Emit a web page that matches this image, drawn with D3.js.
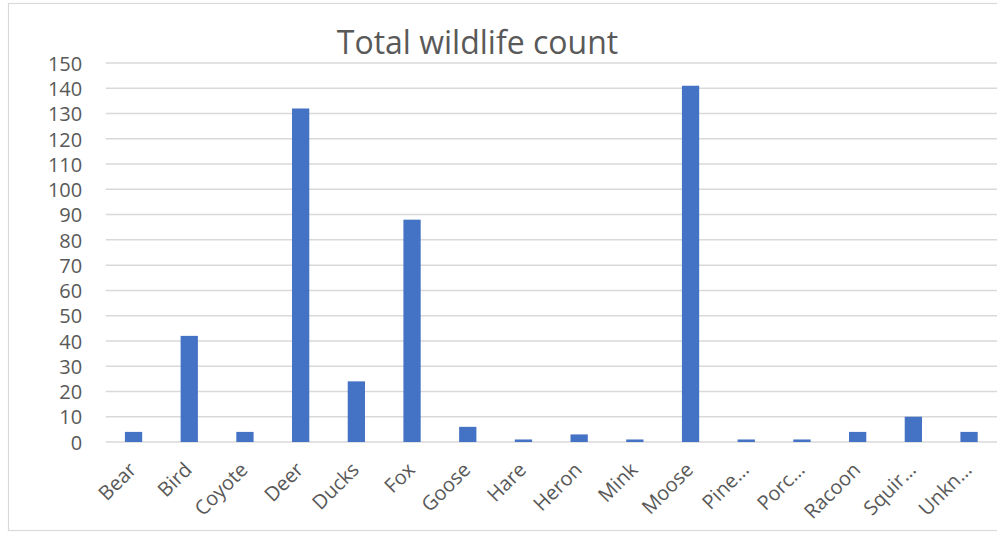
<!DOCTYPE html>
<html>
<head>
<meta charset="utf-8">
<script src="https://cdn.jsdelivr.net/npm/d3@7"></script>
<style>
  html, body { margin: 0; padding: 0; background: #fff; }
  svg { display: block; }
</style>
</head>
<body>
<svg id="chart" width="997" height="533"></svg>
<script>
// Wildlife sightings by species
const categories = ["Bear", "Bird", "Coyote", "Deer", "Ducks", "Fox", "Goose", "Hare",
  "Heron", "Mink", "Moose", "Pine…", "Porc…", "Racoon", "Squir…", "Unkn…"];
const counts = [4, 42, 4, 132, 24, 88, 6, 1, 3, 1, 141, 1, 1, 4, 10, 4];
const yTicks = [0, 10, 20, 30, 40, 50, 60, 70, 80, 90, 100, 110, 120, 130, 140, 150];
const chartTitle = "Total wildlife count";

const W = 997, H = 533;
const margin = { left: 105.7, right: 0, top: 63, bottom: 91 };
const svg = d3.select("#chart");
const font = "'Open Sans', 'Noto Sans', sans-serif";
const textColor = "#595959";

// chart area frame
svg.append("rect")
  .attr("x", 8.5).attr("y", 3.5)
  .attr("width", W + 10).attr("height", 527)
  .attr("fill", "#fff")
  .attr("stroke", "#d9d9d9").attr("stroke-width", 1.2);

const x = d3.scaleBand()
  .domain(categories)
  .range([margin.left, margin.left + 55.7 * categories.length])
  .paddingInner(0.69).paddingOuter(0.345);

const y = d3.scaleLinear()
  .domain([0, 150])
  .range([H - margin.bottom, margin.top]);

// horizontal gridlines
svg.append("g")
  .selectAll("line")
  .data(yTicks)
  .join("line")
  .attr("x1", margin.left).attr("x2", W)
  .attr("y1", d => y(d)).attr("y2", d => y(d))
  .attr("stroke", "#d9d9d9").attr("stroke-width", 1.5);

// y axis labels
const yAxis = d3.axisLeft(y).tickValues(yTicks).tickSize(0).tickPadding(0);
const yg = svg.append("g")
  .attr("transform", `translate(${margin.left - 23.5},0)`)
  .call(yAxis);
yg.select(".domain").remove();
yg.selectAll("text")
  .attr("fill", textColor)
  .style("font-family", font)
  .style("font-size", "20px")
  .attr("dy", "0.36em");

// bars
svg.append("g")
  .selectAll("rect")
  .data(categories.map((c, i) => ({ c, v: counts[i] })))
  .join("rect")
  .attr("x", d => x(d.c))
  .attr("width", x.bandwidth())
  .attr("y", d => y(d.v))
  .attr("height", d => y(0) - y(d.v))
  .attr("fill", "#4472c4");

// x axis with rotated category labels
const xAxis = d3.axisBottom(x).tickSize(0).tickPadding(0);
const xg = svg.append("g")
  .attr("transform", `translate(0,${y(0)})`)
  .call(xAxis);
xg.select(".domain").remove();
xg.selectAll("text")
  .attr("fill", textColor)
  .style("font-family", font)
  .style("font-size", "20px")
  .attr("text-anchor", "end")
  .attr("dy", 0)
  .attr("transform", "translate(4,29) rotate(-45)");

// title
svg.append("text")
  .attr("x", 477.5).attr("y", 54)
  .attr("text-anchor", "middle")
  .attr("fill", textColor)
  .style("font-family", font)
  .style("font-size", "32px")
  .text(chartTitle);
</script>
</body>
</html>
